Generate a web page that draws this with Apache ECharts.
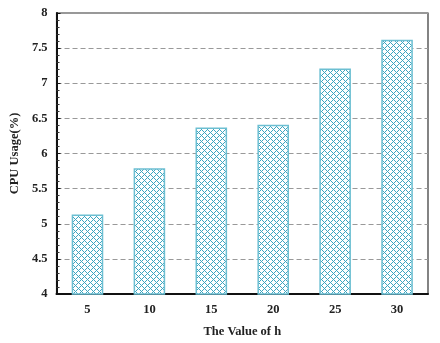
<!DOCTYPE html>
<html>
<head>
<meta charset="utf-8">
<script src="https://cdn.jsdelivr.net/npm/echarts@6/dist/echarts.min.js"></script>
<style>html,body{margin:0;padding:0;background:#fff}#c{width:440px;height:343px}</style>
</head>
<body>
<div id="c"></div>
<script>
var categories = ['5', '10', '15', '20', '25', '30'];
var cpuUsage = [5.13, 5.79, 6.37, 6.41, 7.21, 7.62];
var yTicks = [4, 4.5, 5, 5.5, 6, 6.5, 7, 7.5, 8];

function makePattern() {
  var p = 6;
  var cv = document.createElement('canvas');
  cv.width = p; cv.height = p;
  var ctx = cv.getContext('2d');
  ctx.fillStyle = '#ffffff';
  ctx.fillRect(0, 0, p, p);
  ctx.fillStyle = '#3da5c0';
  for (var x = 0; x < p; x++) {
    for (var y = 0; y < p; y++) {
      if ((x + y) % p === 0 || ((x - y) % p + p) % p === 0) ctx.fillRect(x, y, 1, 1);
    }
  }
  return cv;
}

var chart = echarts.init(document.getElementById('c'), null, {renderer: 'canvas'});
var font = '"Liberation Serif", "Times New Roman", serif';
chart.setOption({
  animation: false,
  backgroundColor: '#ffffff',
  grid: {left: 52, right: 12, top: 13, bottom: 39, show: true, borderColor: '#333', borderWidth: 1.2, backgroundColor: 'transparent'},
  xAxis: {
    type: 'category',
    data: categories,
    name: 'The Value of h',
    nameLocation: 'middle',
    nameGap: 31,
    nameTextStyle: {fontFamily: font, fontWeight: 'bold', fontSize: 12.5, color: '#222'},
    axisLine: {lineStyle: {color: '#111', width: 2}},
    axisTick: {show: false},
    axisLabel: {fontFamily: font, fontWeight: 'bold', fontSize: 12.5, color: '#222', margin: 9}
  },
  yAxis: {
    type: 'value',
    min: yTicks[0],
    max: yTicks[yTicks.length - 1],
    interval: 0.5,
    name: 'CPU Usage(%)',
    nameLocation: 'middle',
    nameGap: 32,
    nameTextStyle: {fontFamily: font, fontWeight: 'bold', fontSize: 12.5, color: '#222'},
    axisLine: {show: true, lineStyle: {color: '#111', width: 2}},
    axisTick: {show: true, inside: true, length: 4, lineStyle: {color: '#111'}},
    minorTick: {show: true, splitNumber: 5, length: 3, lineStyle: {color: '#333'}},
    axisLabel: {fontFamily: font, fontWeight: 'bold', fontSize: 12.5, color: '#222', margin: 9,
      formatter: function (v) { return String(v); }},
    splitLine: {show: true, lineStyle: {color: '#999', type: [5, 3], width: 1.2}}
  },
  series: [{
    type: 'bar',
    data: cpuUsage,
    barWidth: '51%',
    itemStyle: {
      color: {image: makePattern(), repeat: 'repeat'},
      borderColor: '#6cbfd2',
      borderWidth: 1.5
    }
  }]
});
</script>
</body>
</html>
